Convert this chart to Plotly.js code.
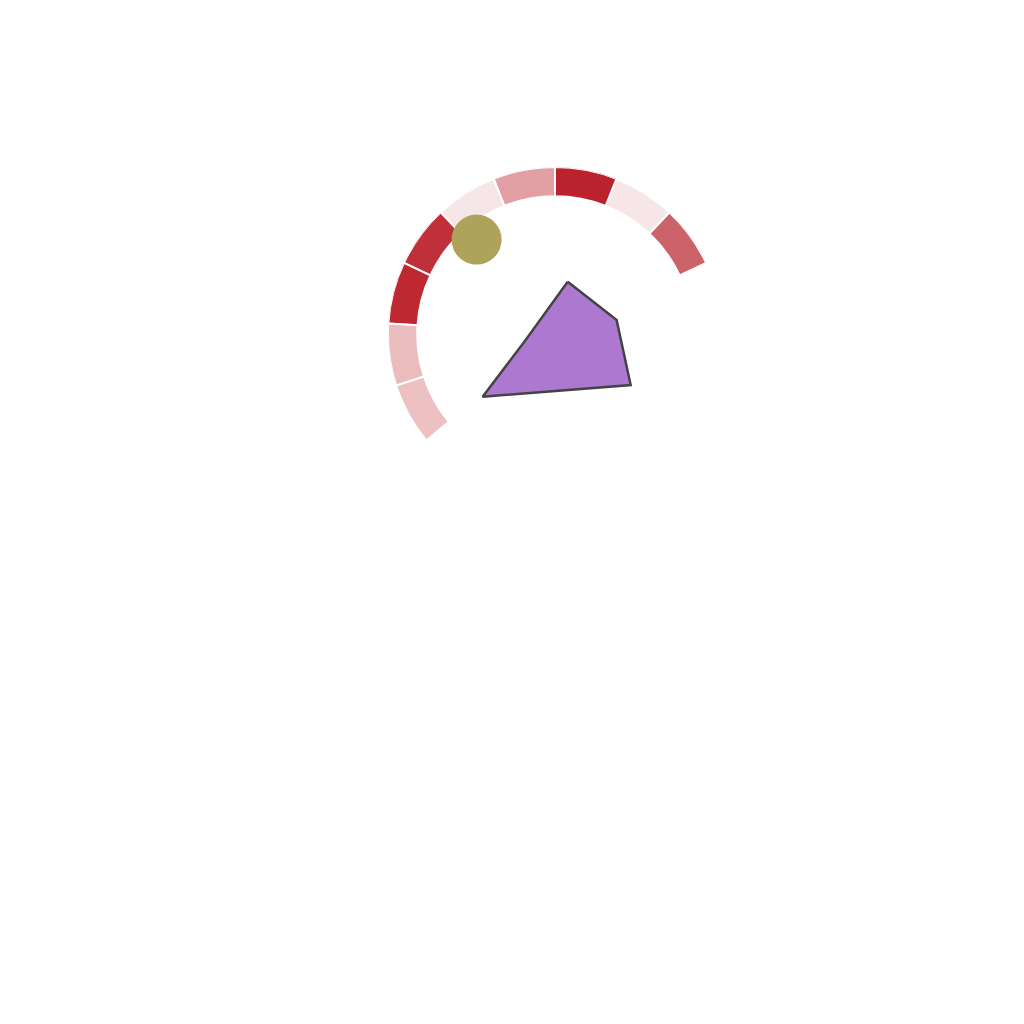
<!DOCTYPE html>
<html>
<head>
<meta charset="utf-8">
<script src="https://cdn.plot.ly/plotly-3.0.1.min.js"></script>
<style>html,body{margin:0;padding:0;background:#fff;}#chart{width:1024px;height:1024px;}</style>
</head>
<body>
<div id="chart"></div>
<script>
// Ring segments (angle centres in degrees, counter-clockwise from east)
const segmentTheta = [36, 57.6, 79.2, 100.8, 122.4, 144, 165.6, 187.2, 208.8];
const segmentBase = [4.95, 4.95, 4.95, 4.95, 4.95, 4.95, 4.95, 4.95, 4.95];
const segmentLength = [1.05, 1.05, 1.05, 1.05, 1.05, 1.05, 1.05, 1.05, 1.05];
const segmentColors = ['#CC636A', '#F7E6E7', '#BC222D', '#E3A0A4', '#F7E6E7', '#C0303A', '#BE2831', '#EABCBE', '#EDC0C2'];

// Filled polygon
const polyTheta = [76.3, 12.8, -34, 220.9, 193.1, 76.3];
const polyR = [1.93, 2.27, 3.28, 3.44, 1.11, 1.93];

// Single marker
const dotTheta = [129.7];
const dotR = [4.41];

const data = [
  {
    type: 'barpolar',
    theta: segmentTheta,
    r: segmentLength,
    base: segmentBase,
    width: segmentTheta.map(() => 21.6),
    marker: {color: segmentColors, line: {color: '#ffffff', width: 2}},
    hoverinfo: 'none'
  },
  {
    type: 'scatterpolar',
    mode: 'lines',
    theta: polyTheta,
    r: polyR,
    fill: 'toself',
    fillcolor: '#AD78D0',
    line: {color: '#444444', width: 2.5},
    hoverinfo: 'none'
  },
  {
    type: 'scatterpolar',
    mode: 'markers',
    theta: dotTheta,
    r: dotR,
    marker: {color: '#ADA35A', size: 50},
    hoverinfo: 'none'
  }
];

const layout = {
  width: 1024,
  height: 1024,
  margin: {l: 0, r: 0, t: 0, b: 0},
  paper_bgcolor: '#ffffff',
  showlegend: false,
  polar: {
    domain: {x: [388/1024, 722/1024], y: [1 - 501/1024, 1 - 167/1024]},
    bgcolor: 'rgba(0,0,0,0)',
    radialaxis: {range: [0, 6], visible: false, showgrid: false, showline: false, showticklabels: false, ticks: ''},
    angularaxis: {visible: false, showgrid: false, showline: false, showticklabels: false, ticks: '', direction: 'counterclockwise', rotation: 0}
  }
};

Plotly.newPlot('chart', data, layout, {displayModeBar: false, staticPlot: true});
</script>
</body>
</html>
